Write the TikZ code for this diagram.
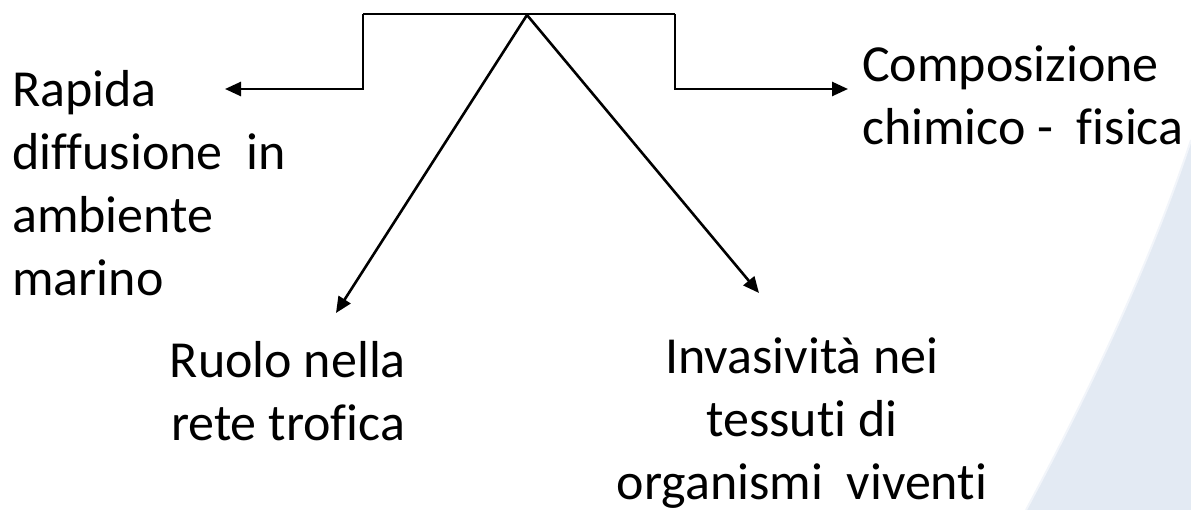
\documentclass[tikz,border=0pt]{standalone}
\usepackage{fontspec}
\setmainfont[Ligatures=NoCommon]{Carlito}
\usetikzlibrary{arrows.meta}
\definecolor{panelblue}{HTML}{E3EAF3}
\definecolor{panelrim}{HTML}{F2F5FA}
\begin{document}
\begin{tikzpicture}[x=1pt,y=-1pt,
  conn/.style={line width=2.6pt, line join=miter},
  arrow/.style={conn, -{Triangle[length=16pt,width=14pt]}},
  label/.style={inner sep=0pt, font=\fontsize{52}{63}\selectfont}]
  \useasboundingbox (0,0) rectangle (1191,510);
  % pale panel curving in from the right edge
  \fill[panelblue] (1191,140) .. controls (1150,265) and (1085,400) .. (1026,510)
    -- (1191,510) -- cycle;
  \draw[panelrim, line width=2pt] (1191,140) .. controls (1150,265) and (1085,400) .. (1026,510);

  % bracket corners, apex and arrow tips
  \coordinate (tl) at (363,14);
  \coordinate (tr) at (675,14);
  \coordinate (apex) at (527,15);
  \coordinate (ltip) at (225,89);
  \coordinate (rtip) at (848,89);
  \coordinate (dltip) at (336,313);
  \coordinate (drtip) at (759,293);

  % labels (base anchor sits on the last line)
  \node[label, align=left, anchor=base west] (rap) at (12,296)
    {Rapida\\diffusione~~in\\ambiente\\marino};
  \node[label, align=left, anchor=base west] (comp) at (862,145)
    {Composizione\\chimico~-~~fisica};
  \node[label, align=center, anchor=base] (ruolo) at (288,440)
    {Ruolo nella\\rete trofica};
  \node[label, align=center, anchor=base] (inv) at (802,499)
    {Invasività nei\\tessuti di\\organismi~~viventi};

  % connectors
  \draw[conn] (tl) -- (tr);
  \draw[arrow] (tl) |- (ltip);
  \draw[arrow] (tr) |- (rtip);
  \draw[arrow] (apex) -- (dltip);
  \draw[arrow] (apex) -- (drtip);
\end{tikzpicture}
\end{document}
